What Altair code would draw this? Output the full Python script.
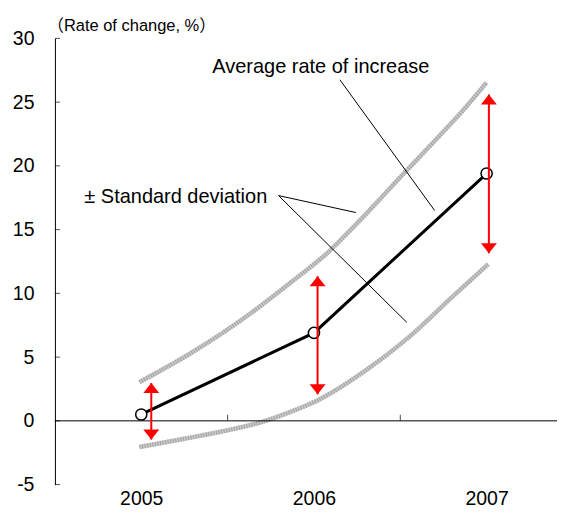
import altair as alt
import pandas as pd

# ---------------- data ----------------
years = [2005, 2006, 2007]
mean_rate = [0.5, 6.9, 19.4]

# red ± standard deviation arrows
arrow_x = [2005.058, 2006.021, 2007.013]
sd_top = [2.96, 11.35, 25.6]
sd_bottom = [-1.47, 2.08, 13.15]

# grey envelope curves
upper_x = [2004.99, 2005.31, 2005.63, 2005.86, 2006.08, 2006.25, 2006.52, 2006.73, 2006.86, 2007.0]
upper_y = [3.04, 5.5, 8.4, 10.8, 13.2, 15.5, 19.4, 22.4, 24.3, 26.55]
lower_x = [2004.99, 2005.25, 2005.50, 2005.71, 2005.86, 2006.02, 2006.30, 2006.55, 2006.79, 2007.01]
lower_y = [-2.05, -1.4, -0.74, -0.04, 0.68, 1.6, 3.96, 6.57, 9.58, 12.3]

y_ticks = [-5, 0, 5, 10, 15, 20, 25, 30]
x_minor_ticks = [2005.5, 2006.5]

ann_text = ["Average rate of increase", "± Standard deviation"]
ann_x = [2006.04, 2005.20]
ann_y = [27.29, 17.12]

leader_x = [2006.150, 2005.795, 2005.795]
leader_y = [26.76, 17.67, 17.67]
leader_x2 = [2006.699, 2006.243, 2006.538]
leader_y2 = [16.50, 16.34, 7.72]

FONT = "Liberation Sans"

# ---------------- tables ----------------
mean_df = pd.DataFrame({"year": years, "rate": mean_rate})
arrow_df = pd.DataFrame({"x": arrow_x, "top": sd_top, "bottom": sd_bottom})
curve_df = pd.concat([
    pd.DataFrame({"x": upper_x, "y": upper_y, "curve": "upper"}),
    pd.DataFrame({"x": lower_x, "y": lower_y, "curve": "lower"}),
])
ytick_df = pd.DataFrame({"v": y_ticks})
xtick_df = pd.DataFrame({"x": x_minor_ticks, "y": [0] * len(x_minor_ticks)})
ann_df = pd.DataFrame({"text": ann_text, "x": ann_x, "y": ann_y})
leader_df = pd.DataFrame({"x": leader_x, "y": leader_y, "x2": leader_x2, "y2": leader_y2})
zero_df = pd.DataFrame({"y": [0]})

x_scale = alt.Scale(domain=[2004.5, 2007.5], nice=False, zero=False)
y_scale = alt.Scale(domain=[-5, 30], nice=False, zero=False)

x_axis = alt.Axis(values=years, format="d", domain=False, ticks=False, grid=False,
                  labelPadding=20, labelBaseline="alphabetic", labelFontSize=19.5,
                  labelFont=FONT, labelColor="black", title=None)
y_axis = alt.Axis(values=y_ticks, domain=True, domainColor="black", domainWidth=1,
                  ticks=False, grid=False, labelPadding=21, labelFontSize=19.5,
                  labelFont=FONT, labelColor="black", labelExpr="'' + datum.value",
                  title="（Rate of change, %）", titleAngle=0, titleAlign="left",
                  titleBaseline="alphabetic", titleX=-8, titleY=-8.3,
                  titleFontSize=16.5, titleFontWeight="normal",
                  titleFont="Liberation Sans, Noto Sans CJK JP", titleColor="black")


def X(field):
    return alt.X(field, type="quantitative", scale=x_scale, axis=x_axis)


def Y(field):
    return alt.Y(field, type="quantitative", scale=y_scale, axis=y_axis)


# grey curves: light base + darker dashed overlay for a hatched look
curves_base = alt.Chart(curve_df).mark_line(
    color="#c8c8c8", strokeWidth=4.5, interpolate="monotone"
).encode(x=X("x"), y=Y("y"), detail="curve:N")
curves_hatch = alt.Chart(curve_df).mark_line(
    color="#a4a4a4", strokeWidth=4.5, interpolate="monotone", strokeDash=[1, 1.6]
).encode(x=X("x"), y=Y("y"), detail="curve:N")

zero_line = alt.Chart(zero_df).mark_rule(color="black", strokeWidth=1).encode(y=Y("y"))
x_ticks = alt.Chart(xtick_df).mark_tick(
    orient="vertical", size=6, thickness=1, color="black", yOffset=-3
).encode(x=X("x"), y=Y("y"))
y_tick_marks = alt.Chart(ytick_df).mark_tick(
    orient="horizontal", size=5, thickness=1, color="black"
).encode(x=alt.value(2.5), y=Y("v"))

leaders = alt.Chart(leader_df).mark_rule(color="black", strokeWidth=1).encode(
    x=X("x"), y=Y("y"), x2="x2", y2="y2"
)

mean_line = alt.Chart(mean_df).mark_line(color="black", strokeWidth=3).encode(
    x=X("year"), y=Y("rate")
)
mean_pts = alt.Chart(mean_df).mark_point(
    shape="circle", size=125, filled=True, fill="white", stroke="black", strokeWidth=1.5, opacity=1
).encode(x=X("year"), y=Y("rate"))

arrow_rule = alt.Chart(arrow_df).mark_rule(color="#ff0000", strokeWidth=2).encode(
    x=X("x"), y=Y("bottom"), y2="top"
)
head_up = alt.Chart(arrow_df).mark_point(
    shape="M0,0L1,1.25L-1,1.25Z", size=256, filled=True, color="#ff0000", opacity=1, strokeWidth=0
).encode(x=X("x"), y=Y("top"))
head_down = alt.Chart(arrow_df).mark_point(
    shape="M0,0L1,-1.25L-1,-1.25Z", size=256, filled=True, color="#ff0000", opacity=1, strokeWidth=0
).encode(x=X("x"), y=Y("bottom"))

labels = alt.Chart(ann_df).mark_text(
    font=FONT, fontSize=20, align="center", baseline="alphabetic", color="black"
).encode(x=X("x"), y=Y("y"), text="text:N")

chart = alt.layer(
    curves_base, curves_hatch, zero_line, x_ticks, y_tick_marks, leaders,
    mean_line, mean_pts, arrow_rule, head_up, head_down, labels
).properties(
    width=519, height=447,
    padding={"left": 4, "top": 8, "right": -17, "bottom": 0},
    background="white",
).configure_view(stroke=None)

chart.save("out.html", embed_options={"renderer": "svg", "actions": False})
